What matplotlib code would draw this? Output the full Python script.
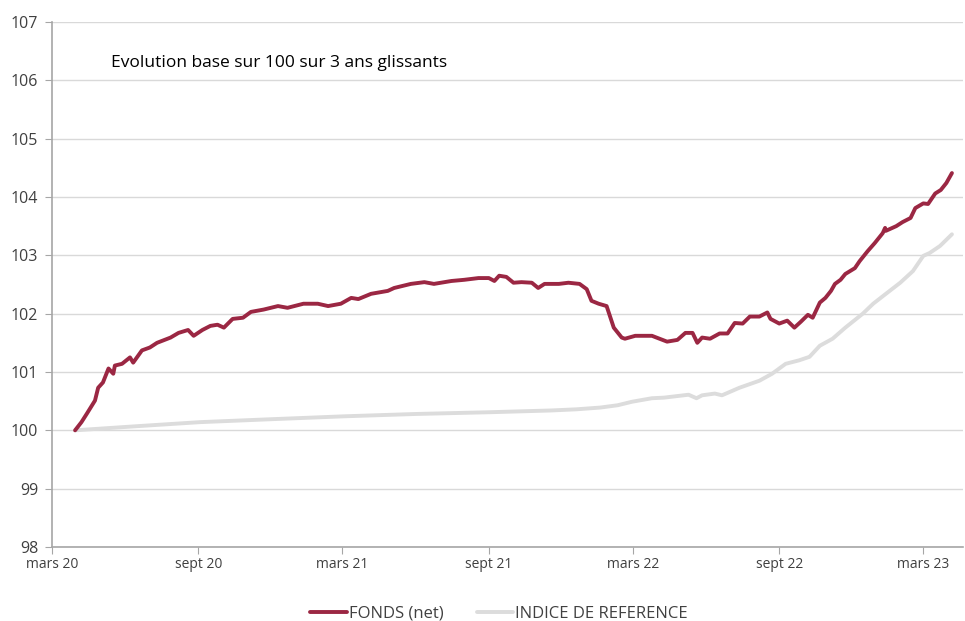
import numpy as np
import pandas as pd
import matplotlib
matplotlib.use('Agg')
import matplotlib.pyplot as plt

# Fonds (net), base 100
fonds_dates = ['2020-03-30', '2020-04-07', '2020-04-14', '2020-04-24', '2020-04-28',
               '2020-05-04', '2020-05-11', '2020-05-17', '2020-05-19', '2020-05-28',
               '2020-06-07', '2020-06-11', '2020-06-22', '2020-07-02', '2020-07-11',
               '2020-07-28', '2020-08-07', '2020-08-19', '2020-08-26', '2020-09-06',
               '2020-09-16', '2020-09-25', '2020-10-03', '2020-10-14', '2020-10-27',
               '2020-11-06', '2020-11-22', '2020-12-10', '2020-12-22', '2021-01-11',
               '2021-01-29', '2021-02-11', '2021-02-27', '2021-03-12', '2021-03-21',
               '2021-04-06', '2021-04-27', '2021-05-05', '2021-05-26', '2021-06-12',
               '2021-06-24', '2021-07-16', '2021-08-01', '2021-08-19', '2021-09-01',
               '2021-09-08', '2021-09-14', '2021-09-23', '2021-10-02', '2021-10-12',
               '2021-10-25', '2021-11-02', '2021-11-10', '2021-11-28', '2021-12-10',
               '2021-12-24', '2022-01-02', '2022-01-08', '2022-01-17', '2022-01-27',
               '2022-02-05', '2022-02-15', '2022-02-19', '2022-03-04', '2022-03-25',
               '2022-04-13', '2022-04-26', '2022-05-06', '2022-05-15', '2022-05-21',
               '2022-05-27', '2022-06-06', '2022-06-18', '2022-06-28', '2022-07-07',
               '2022-07-17', '2022-07-26', '2022-08-07', '2022-08-17', '2022-08-21',
               '2022-09-01', '2022-09-11', '2022-09-20', '2022-09-28', '2022-10-07',
               '2022-10-13', '2022-10-22', '2022-10-29', '2022-11-05', '2022-11-10',
               '2022-11-17', '2022-11-23', '2022-12-05', '2022-12-11', '2022-12-21',
               '2022-12-30', '2023-01-09', '2023-01-12', '2023-01-13', '2023-01-26',
               '2023-02-03', '2023-02-13', '2023-02-19', '2023-03-01', '2023-03-07',
               '2023-03-16', '2023-03-23', '2023-03-30', '2023-04-06']
fonds_values = [100.00, 100.14, 100.29, 100.51, 100.73,
                100.82, 101.06, 100.97, 101.11, 101.14,
                101.25, 101.16, 101.37, 101.42, 101.50,
                101.59, 101.67, 101.72, 101.62, 101.72,
                101.79, 101.81, 101.76, 101.91, 101.93,
                102.03, 102.07, 102.13, 102.10, 102.17,
                102.17, 102.13, 102.17, 102.27, 102.25,
                102.34, 102.39, 102.44, 102.51, 102.54,
                102.51, 102.56, 102.58, 102.61, 102.61,
                102.56, 102.65, 102.63, 102.53, 102.54,
                102.53, 102.44, 102.51, 102.51, 102.53,
                102.51, 102.42, 102.22, 102.17, 102.13,
                101.76, 101.59, 101.57, 101.62, 101.62,
                101.52, 101.55, 101.67, 101.67, 101.50,
                101.59, 101.57, 101.66, 101.66, 101.84,
                101.83, 101.95, 101.95, 102.02, 101.91,
                101.83, 101.88, 101.76, 101.86, 101.98,
                101.93, 102.19, 102.27, 102.39, 102.51,
                102.58, 102.68, 102.78, 102.90, 103.07,
                103.21, 103.38, 103.47, 103.42, 103.50,
                103.57, 103.64, 103.81, 103.89, 103.88,
                104.06, 104.12, 104.24, 104.41]

# Indice de reference, base 100
indice_dates = ['2020-03-30', '2020-06-15', '2020-09-03', '2020-12-01', '2021-03-03',
                '2021-06-01', '2021-09-02', '2021-11-18', '2021-12-20', '2022-01-19',
                '2022-02-10', '2022-02-28', '2022-03-25', '2022-04-09', '2022-05-10',
                '2022-05-20', '2022-05-27', '2022-06-12', '2022-06-21', '2022-07-13',
                '2022-08-07', '2022-08-23', '2022-09-09', '2022-09-26', '2022-10-09',
                '2022-10-22', '2022-11-07', '2022-11-23', '2022-12-15', '2022-12-28',
                '2023-01-13', '2023-01-31', '2023-02-16', '2023-03-01', '2023-03-09',
                '2023-03-22', '2023-04-06']
indice_values = [100.00, 100.07, 100.14, 100.19, 100.24,
                 100.28, 100.31, 100.34, 100.36, 100.39,
                 100.43, 100.49, 100.55, 100.56, 100.61,
                 100.55, 100.60, 100.63, 100.60, 100.73,
                 100.85, 100.97, 101.14, 101.20, 101.26,
                 101.45, 101.57, 101.76, 102.00, 102.17,
                 102.34, 102.53, 102.73, 102.99, 103.04,
                 103.16, 103.36]

tick_dates = ['2020-03-01', '2020-09-01', '2021-03-01', '2021-09-01',
              '2022-03-01', '2022-09-01', '2023-03-01']
tick_labels = ['mars 20', 'sept 20', 'mars 21', 'sept 21',
               'mars 22', 'sept 22', 'mars 23']

plt.rcParams['font.family'] = ['Open Sans', 'DejaVu Sans']

fig = plt.figure(figsize=(9.65, 6.21), dpi=100)
ax = fig.add_axes([0.0539, 0.1192, 0.9441, 0.8454])

ax.plot(pd.to_datetime(indice_dates), indice_values, color='#DCDCDC',
        linewidth=2.8, label='INDICE DE REFERENCE', solid_capstyle='round', zorder=3)
ax.plot(pd.to_datetime(fonds_dates), fonds_values, color='#9B2743',
        linewidth=2.8, label='FONDS (net)', solid_capstyle='round', zorder=4)

ax.set_ylim(98, 107)
ax.set_yticks(np.arange(98, 108, 1))
ax.set_xlim(pd.Timestamp('2020-03-01'), pd.Timestamp('2023-04-20'))
ax.set_xticks(pd.to_datetime(tick_dates))
ax.set_xticklabels(tick_labels)

ax.grid(axis='y', color='#D9D9D9', linewidth=1.0)
ax.set_axisbelow(True)
for s in ['top', 'right']:
    ax.spines[s].set_visible(False)
for s in ['left', 'bottom']:
    ax.spines[s].set_color('#A6A6A6')
    ax.spines[s].set_linewidth(1.2)
ax.tick_params(axis='y', labelsize=11.5, colors='#404040', length=5, color='#A6A6A6', pad=5)
ax.tick_params(axis='x', labelsize=10, colors='#404040', length=5, color='#A6A6A6', pad=2)
for lbl in ax.get_xticklabels() + ax.get_yticklabels():
    lbl.set_color('#404040')

ax.text(0.065, 0.921, 'Evolution base sur 100 sur 3 ans glissants',
        transform=ax.transAxes, fontsize=12.5, color='#000000', va='center')

handles, labels = ax.get_legend_handles_labels()
fig.legend(handles[::-1], labels[::-1], loc='center', bbox_to_anchor=(0.517, 0.012),
           ncol=2, frameon=False, fontsize=12, handlelength=2.2,
           handletextpad=0.1, columnspacing=2.0, labelcolor='#404040')

fig.savefig('out.png', dpi=100)
